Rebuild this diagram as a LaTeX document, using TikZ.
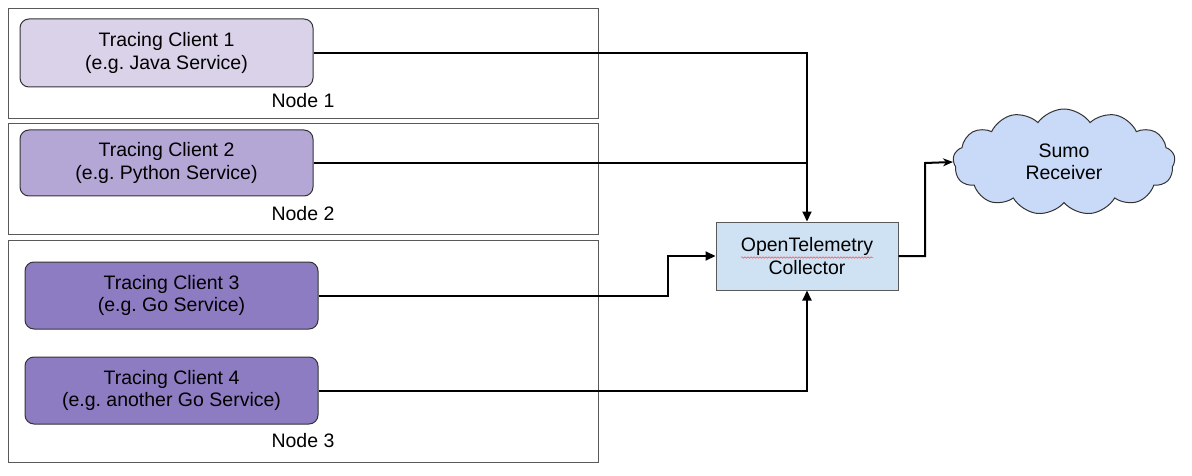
\documentclass[tikz,border=0pt]{standalone}
\usepackage{fontspec}
\setmainfont{Liberation Sans}
\usetikzlibrary{shapes.symbols,arrows.meta,decorations.pathmorphing}
\definecolor{c1}{HTML}{D9D2E9}
\definecolor{c2}{HTML}{B4A7D6}
\definecolor{c3}{HTML}{8E7CC3}
\definecolor{coll}{HTML}{CFE2F3}
\definecolor{cloudc}{HTML}{C9DAF8}
\definecolor{frame}{HTML}{595959}
\tikzset{
  hostbox/.style={draw=frame, line width=1pt},
  client/.style={draw=black!80, line width=1pt, rounded corners=9pt, align=center, inner sep=0pt},
  lbl/.style={font=\fontsize{19.5}{22.5}\selectfont\frenchspacing, align=center},
  wire/.style={line width=2pt},
  conn/.style={wire, -{Triangle[length=10pt,width=9pt]}},
}
\begin{document}
\begin{tikzpicture}[x=1pt,y=-1pt]
\useasboundingbox (0,0) rectangle (1192,476);
% host boxes
\draw[hostbox] (8,9) rectangle (598,119);
\draw[hostbox] (8,124) rectangle (598,234);
\draw[hostbox] (8,240) rectangle (598,462);
\node[lbl] (n1) at (303,101) {Node 1};
\node[lbl] (n2) at (303,214) {Node 2};
\node[lbl] (n3) at (303,441) {Node 3};
% clients
\node[client, fill=c1, minimum width=293pt, minimum height=68pt, lbl] (t1) at (166.5,53) {Tracing Client 1\\(e.g. Java Service)};
\node[client, fill=c2, minimum width=293pt, minimum height=66pt, lbl] (t2) at (166.5,163) {Tracing Client 2\\(e.g. Python Service)};
\node[client, fill=c3, minimum width=293pt, minimum height=67pt, lbl] (t3) at (171.5,295.5) {Tracing Client 3\\(e.g. Go Service)};
\node[client, fill=c3, minimum width=293pt, minimum height=67pt, lbl] (t4) at (171.5,390.5) {Tracing Client 4\\(e.g. another Go Service)};
% collector
\node[draw=frame, line width=1pt, fill=coll, minimum width=182pt, minimum height=68pt, inner sep=0pt, lbl] (col) at (807,256) {OpenTelemetry\\Collector};
\draw[red!70, line width=0.5pt, decorate, decoration={snake, amplitude=0.8pt, segment length=3pt}] (741,257.5) -- (873,257.5);
% cloud
\node[cloud, cloud puffs=13, cloud puff arc=110, aspect=2.1, draw=black!80, line width=1pt, fill=cloudc, minimum width=222pt, minimum height=106pt, inner sep=0pt, lbl] (rcv) at (1064,162) {Sumo\\Receiver};
% connectors
\coordinate (j1) at (807,53);
\coordinate (j2) at (807,163);
\draw[conn] (t1.east) -- (j1) -- (col.north);
\draw[wire] (t2.east) -- (j2);
\draw[conn] (t3.east) -- (668,295.5) -- (668,256) -- (col.west);
\draw[conn] (t4.east) -- (807,390.5) -- (col.south);
\draw[wire, -{Stealth[length=10pt,width=8pt]}] (col.east) -- (925,256) -- (925,163) -- (rcv.west);
\end{tikzpicture}
\end{document}
